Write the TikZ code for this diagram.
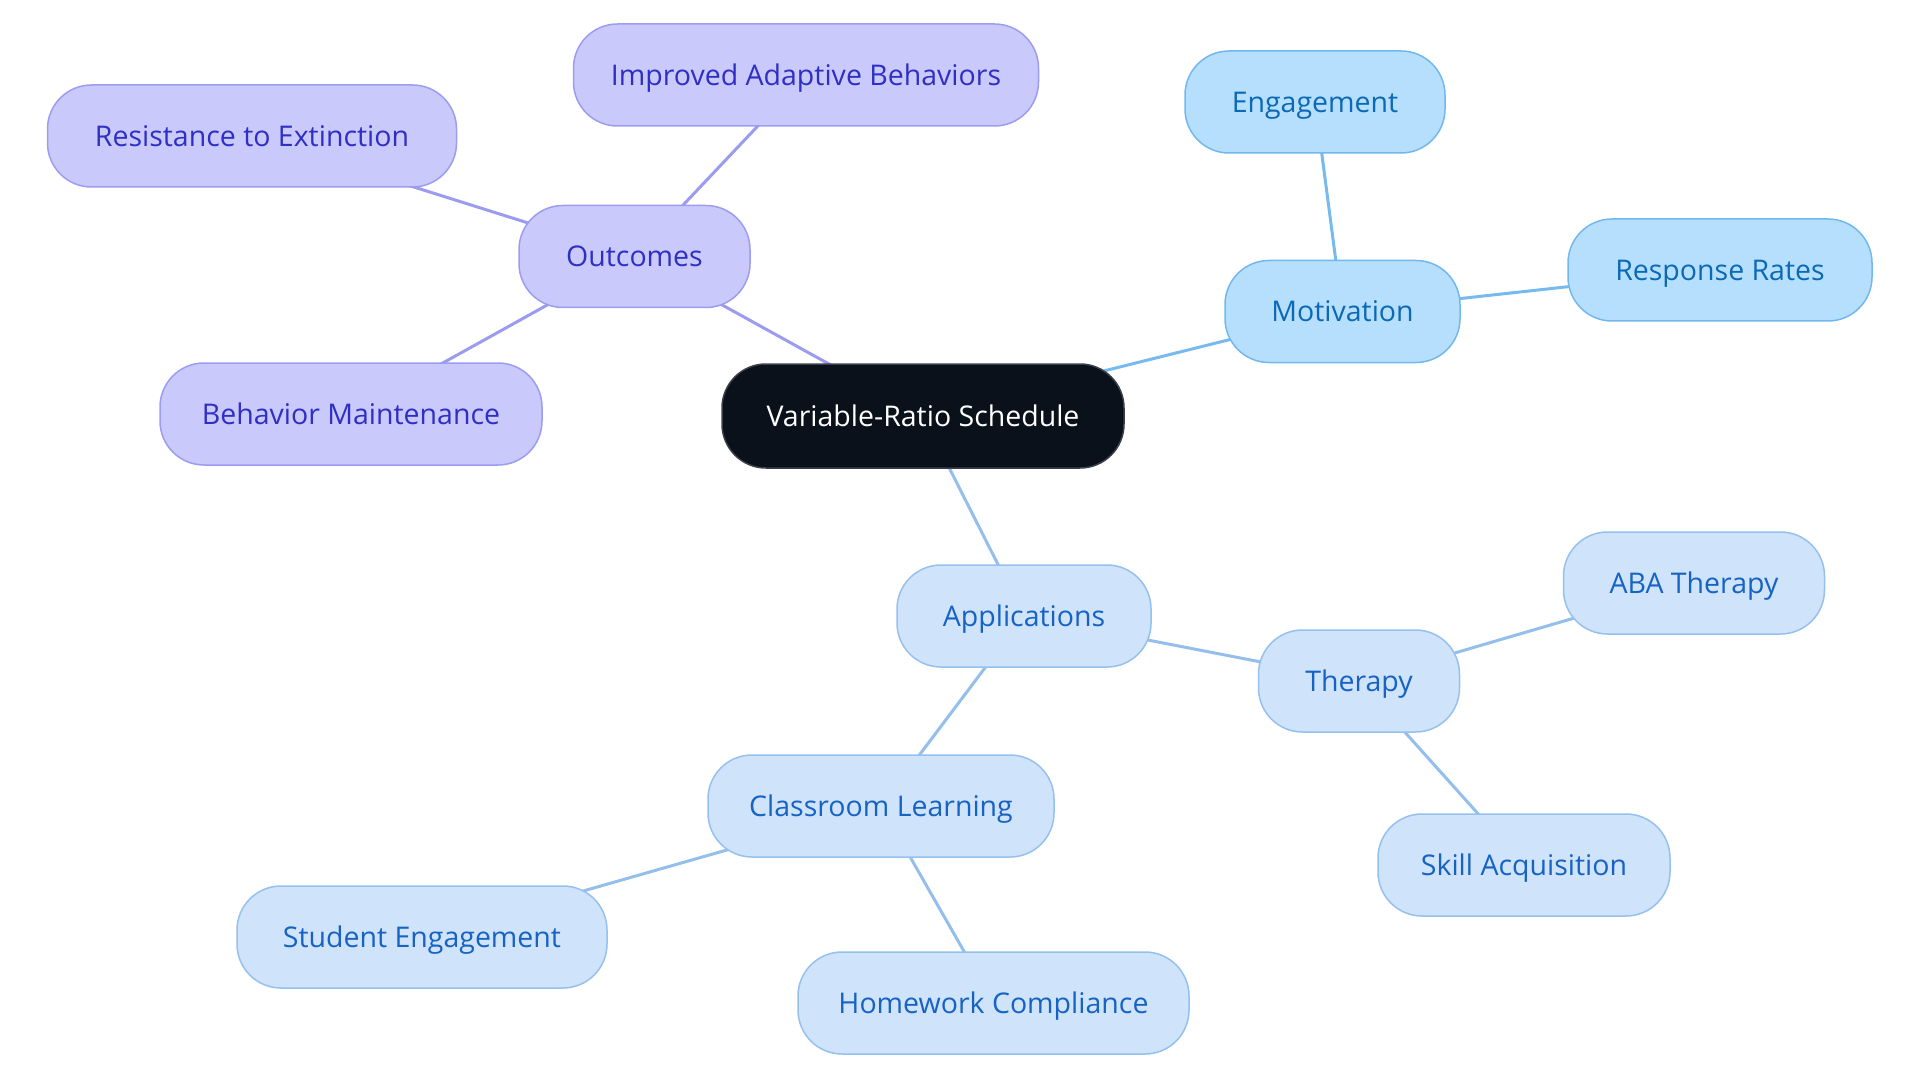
\documentclass[tikz,border=0pt]{standalone}
\usepackage{fontspec}
\setmainfont{Open Sans}
\usetikzlibrary{backgrounds}
\definecolor{rootfill}{HTML}{0B111B}
\definecolor{rootdraw}{HTML}{3A4048}
\definecolor{pfill}{HTML}{C9C9FC}
\definecolor{pdraw}{HTML}{9C9CF0}
\definecolor{ptext}{HTML}{2F2FC4}
\definecolor{pedge}{HTML}{9B9BEF}
\definecolor{mfill}{HTML}{B6DFFD}
\definecolor{mdraw}{HTML}{72B8EE}
\definecolor{mtext}{HTML}{0B69B5}
\definecolor{medge}{HTML}{76BAEE}
\definecolor{afill}{HTML}{CFE3FA}
\definecolor{adraw}{HTML}{96C0EE}
\definecolor{atext}{HTML}{1763C4}
\definecolor{aedge}{HTML}{94BFEC}
\tikzset{
  box/.style={rounded corners=44pt, minimum height=102pt, line width=1.5pt,
    font=\fontsize{28.5}{32}\selectfont, inner sep=0pt, text depth=0pt, anchor=center},
  rootbox/.style={box, fill=rootfill, draw=rootdraw, text=white, minimum height=104pt},
  pbox/.style={box, fill=pfill, draw=pdraw, text=ptext},
  mbox/.style={box, fill=mfill, draw=mdraw, text=mtext},
  abox/.style={box, fill=afill, draw=adraw, text=atext},
  pline/.style={draw=pedge, line width=3pt},
  mline/.style={draw=medge, line width=3pt},
  aline/.style={draw=aedge, line width=3pt},
}
\begin{document}
\begin{tikzpicture}[x=1pt,y=-1pt]
\useasboundingbox (0,0) rectangle (1920,1083);
\node[rootbox, minimum width=402pt] (root) at (923,416) {Variable-Ratio Schedule};
\node[pbox, minimum width=231pt] (out) at (634.5,256.5) {Outcomes};
\node[pbox, minimum width=465pt] (imp) at (806,75) {Improved Adaptive Behaviors};
\node[pbox, minimum width=409pt] (res) at (252,136) {Resistance to Extinction};
\node[pbox, minimum width=382pt] (beh) at (351,414) {Behavior Maintenance};
\node[mbox, minimum width=235pt] (mot) at (1342.5,311.5) {Motivation};
\node[mbox, minimum width=260pt] (eng) at (1315,102) {Engagement};
\node[mbox, minimum width=304pt] (resp) at (1720,270) {Response Rates};
\node[abox, minimum width=254pt] (app) at (1024,616) {Applications};
\node[abox, minimum width=201pt] (ther) at (1359,681) {Therapy};
\node[abox, minimum width=261pt] (aba) at (1694,583) {ABA Therapy};
\node[abox, minimum width=292pt] (skill) at (1524,865) {Skill Acquisition};
\node[abox, minimum width=346pt] (class) at (881,806) {Classroom Learning};
\node[abox, minimum width=370pt] (stud) at (422,937) {Student Engagement};
\node[abox, minimum width=391pt] (home) at (993.5,1003) {Homework Compliance};
\begin{scope}[on background layer]
\draw[pline] (root.center) -- (out.center);
\draw[pline] (out.center) -- (imp.center);
\draw[pline] (out.center) -- (res.center);
\draw[pline] (out.center) -- (beh.center);
\draw[mline] (root.center) -- (mot.center);
\draw[mline] (mot.center) -- (eng.center);
\draw[mline] (mot.center) -- (resp.center);
\draw[aline] (root.center) -- (app.center);
\draw[aline] (app.center) -- (ther.center);
\draw[aline] (ther.center) -- (aba.center);
\draw[aline] (ther.center) -- (skill.center);
\draw[aline] (app.center) -- (class.center);
\draw[aline] (class.center) -- (stud.center);
\draw[aline] (class.center) -- (home.center);
\end{scope}
\end{tikzpicture}
\end{document}
